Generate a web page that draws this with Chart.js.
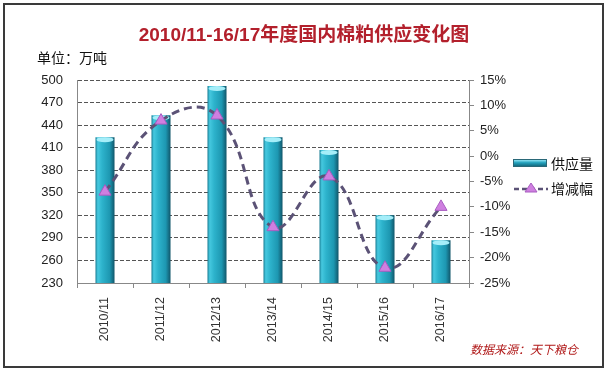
<!DOCTYPE html>
<html><head><meta charset="utf-8">
<script src="https://cdn.jsdelivr.net/npm/chart.js@4.4.1/dist/chart.umd.min.js"></script>
<style>
html,body{margin:0;padding:0;background:#fff;}
#wrap{position:relative;width:608px;height:371px;overflow:hidden;font-family:"Liberation Sans","Noto Sans CJK SC",sans-serif;}
#frame{position:absolute;left:3px;top:3px;width:597px;height:361px;border:2px solid #3a3a3a;pointer-events:none;}
canvas{position:absolute;left:0;top:0;}
#title{position:absolute;left:0;width:608px;top:19px;text-align:center;font-size:19px;font-weight:bold;color:#b3202c;font-family:"Liberation Sans","Noto Sans CJK SC",sans-serif;}
#unit{position:absolute;left:37px;top:47px;font-size:14px;color:#111;font-family:"Noto Sans CJK SC",sans-serif;}
#src{position:absolute;left:470px;top:340px;font-size:12px;color:#b01818;font-style:italic;font-family:"Noto Sans CJK SC",sans-serif;}
.lg{position:absolute;left:513px;font-size:14px;color:#111;font-family:"Noto Sans CJK SC",sans-serif;display:flex;align-items:center;}
.sw{display:inline-block;width:34px;height:8px;background:linear-gradient(#8fe3f3,#23a2bd 45%,#146b80);border:1px solid #2a6878;margin-right:4px;box-sizing:border-box;}
</style></head>
<body><div id="wrap">
<canvas id="c" width="608" height="371"></canvas>
<div id="title">2010/11-16/17年度国内棉粕供应变化图</div>
<div id="unit">单位：万吨</div>
<div class="lg" style="top:153px"><span class="sw"></span>供应量</div>
<div class="lg" style="top:178px"><svg width="36" height="14" style="margin-right:2px"><line x1="1" y1="8" x2="35" y2="8" stroke="#5b5276" stroke-width="2.5" stroke-dasharray="5,3"/><polygon points="18,2 24,11 12,11" fill="#cf7fe0" stroke="#a75cc0" stroke-width="1"/></svg>增减幅</div>
<div id="src">数据来源：天下粮仓</div>
<div id="frame"></div>
</div>
<script>
const categories = ["2010/11","2011/12","2012/13","2013/14","2014/15","2015/16","2016/17"];
const supply = [424, 453, 492, 424, 407, 320, 287];
const change = [-7, 7, 8, -14, -4, -22, -10];
const leftTicks = [230, 260, 290, 320, 350, 380, 410, 440, 470, 500];
const rightTicks = [-25, -20, -15, -10, -5, 0, 5, 10, 15];

function barFill(c){
  const chart = c.chart;
  if(!chart.chartArea) return '#22a0bb';
  const x = chart.scales.x.getPixelForValue(c.dataIndex);
  const w = 19;
  const g = chart.ctx.createLinearGradient(x - w/2, 0, x + w/2, 0);
  g.addColorStop(0, '#1a7f96');
  g.addColorStop(0.12, '#45c8df');
  g.addColorStop(0.35, '#2db3cc');
  g.addColorStop(0.75, '#1d97b1');
  g.addColorStop(1, '#11566a');
  return g;
}

const capPlugin = {
  id:'cap',
  afterDatasetDraw(chart, args){
    if(args.index !== 1) return;
    const ctx = chart.ctx;
    const meta = chart.getDatasetMeta(1);
    meta.data.forEach(b=>{
      const w = b.width;
      ctx.save();
      ctx.beginPath();
      ctx.ellipse(b.x, b.y + 2.5, w/2 - 1, 2.5, 0, 0, Math.PI*2);
      ctx.fillStyle = '#a5eef9';
      ctx.fill();
      ctx.restore();
    });
  }
};

new Chart(document.getElementById('c'), {
  data: {
    labels: categories,
    datasets: [
      {
        type:'line', label:'增减幅', data: change, yAxisID:'y2', order:0,
        borderColor:'#5b5276', borderWidth:3, borderDash:[8,5], tension:0.45,
        pointStyle:'triangle', pointRadius:7, pointBackgroundColor:'#cf7fe0', pointBorderColor:'#a75cc0', pointBorderWidth:1,
        fill:false
      },
      {
        type:'bar', label:'供应量', data: supply, yAxisID:'y', order:1,
        backgroundColor: barFill, borderWidth:0,
        barPercentage:0.34, categoryPercentage:1
      }
    ]
  },
  options: {
    responsive:false, animation:false,
    layout:{padding:{left:30, right:89, top:80, bottom:0}},
    plugins:{legend:{display:false}, tooltip:{enabled:false}},
    scales:{
      x:{
        grid:{display:true, drawOnChartArea:false, drawTicks:true, tickLength:5, color:'#888', offset:true},
        border:{display:true, color:'#888', width:1},
        ticks:{minRotation:90, maxRotation:90, padding:9, color:'#333', font:{size:12.5, family:'"Liberation Sans", sans-serif'}},
        afterFit(s){ s.height = 88; }
      },
      y:{
        position:'left', min:230, max:500,
        afterBuildTicks(s){ s.ticks = leftTicks.map(v=>({value:v})); },
        grid:{color:'#555', drawTicks:false, lineWidth:1},
        border:{display:true, color:'#888', dash:[4,2]},
        ticks:{padding:14, color:'#222', font:{size:13, family:'"Liberation Sans", sans-serif'}},
        afterFit(s){ s.width = 47; }
      },
      y2:{
        position:'right', min:-25, max:15,
        afterBuildTicks(s){ s.ticks = rightTicks.map(v=>({value:v})); },
        grid:{drawOnChartArea:false, drawTicks:true, tickLength:5, color:'#888'},
        border:{display:true, color:'#888'},
        ticks:{padding:6, color:'#222', font:{size:13, family:'"Liberation Sans", sans-serif'}, callback:v=>v+'%'},
        afterFit(s){ s.width = 50; }
      }
    }
  },
  plugins:[capPlugin]
});
</script>
</body></html>
